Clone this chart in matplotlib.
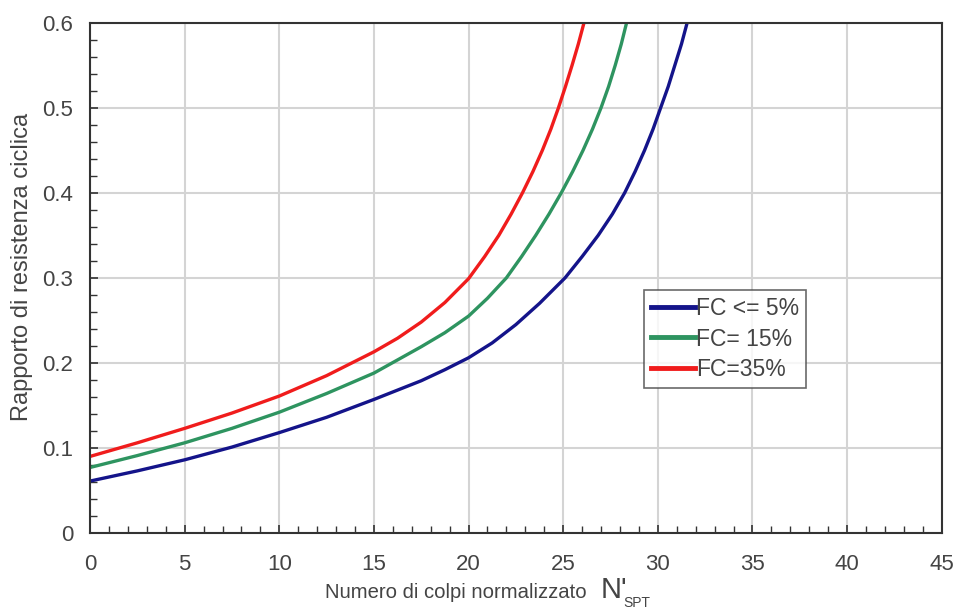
import matplotlib
matplotlib.use("Agg")
import matplotlib.pyplot as plt
from matplotlib.ticker import MultipleLocator

plt.rcParams['font.family'] = ['Liberation Sans', 'DejaVu Sans']

# values (N'spt, CRR)
n_fc5 = [0, 2.5, 5, 7.5, 10, 12.5, 15, 17.5, 18.75, 20, 21.25, 22.5, 23.75, 25.1, 26.0, 26.85,
         27.6, 28.25, 28.8, 29.3, 29.75, 30.15, 30.55, 30.9, 31.25, 31.55]
crr_fc5 = [0.061, 0.073, 0.086, 0.101, 0.118, 0.136, 0.157, 0.179, 0.192, 0.206, 0.2235, 0.245, 0.270, 0.30, 0.325, 0.35,
           0.375, 0.40, 0.425, 0.45, 0.475, 0.50, 0.525, 0.55, 0.575, 0.60]

n_fc15 = [0, 2.5, 5, 7.5, 10, 12.5, 15, 17.5, 18.75, 20, 21.0, 22.0, 22.8, 23.55, 24.25, 24.9,
          25.5, 26.05, 26.55, 27.0, 27.4, 27.75, 28.07, 28.35]
crr_fc15 = [0.077, 0.091, 0.106, 0.123, 0.142, 0.164, 0.188, 0.219, 0.2355, 0.255, 0.276, 0.30, 0.325, 0.35, 0.375, 0.40,
            0.425, 0.45, 0.475, 0.50, 0.525, 0.55, 0.575, 0.60]

n_fc35 = [0, 2.5, 5, 7.5, 10, 12.5, 15, 16.25, 17.5, 18.75, 20, 20.85, 21.6, 22.25, 22.85,
          23.4, 23.9, 24.35, 24.75, 25.12, 25.47, 25.8, 26.1]
crr_fc35 = [0.090, 0.106, 0.123, 0.141, 0.161, 0.185, 0.213, 0.229, 0.248, 0.271, 0.299, 0.325, 0.35, 0.375, 0.40,
            0.425, 0.45, 0.475, 0.50, 0.525, 0.55, 0.575, 0.60]

labels = ["FC <= 5%", "FC= 15%", "FC=35%"]
colors = ["#14148a", "#2e9460", "#f01c1c"]
text_color = '#444444'

fig = plt.figure(figsize=(9.58, 6.14), dpi=100)
ax = fig.add_axes([0.094, 0.132, 0.889, 0.831])

ax.plot(n_fc5, crr_fc5, color=colors[0], lw=2.4, label=labels[0])
ax.plot(n_fc15, crr_fc15, color=colors[1], lw=2.4, label=labels[1])
ax.plot(n_fc35, crr_fc35, color=colors[2], lw=2.4, label=labels[2])

ax.set_xlim(0, 45)
ax.set_ylim(0, 0.6)
ax.xaxis.set_major_locator(MultipleLocator(5))
ax.xaxis.set_minor_locator(MultipleLocator(1))
ax.set_yticks([0, 0.1, 0.2, 0.3, 0.4, 0.5, 0.6])
ax.set_yticklabels(["0", "0.1", "0.2", "0.3", "0.4", "0.5", "0.6"])
ax.yaxis.set_minor_locator(MultipleLocator(0.02))

ax.grid(True, which='major', color='#d4d4d4', lw=1.5)
ax.set_axisbelow(True)
ax.tick_params(which='both', direction='in', colors='#333333', labelcolor=text_color,
               labelsize=16, top=False, right=False)
ax.tick_params(axis='x', which='major', length=6, width=1.2, pad=15)
ax.tick_params(axis='y', which='major', length=6, width=1.2, pad=12)
ax.tick_params(which='minor', length=5, width=1.0)
for s in ax.spines.values():
    s.set_color('#333333')
    s.set_linewidth(1.5)

fig.text(0.023, 0.565, "Rapporto di resistenza ciclica", rotation=90, fontsize=17,
         color=text_color, ha='center', va='center')

fig.text(0.339, 0.026, "Numero di colpi normalizzato", fontsize=14.6, color=text_color, va='baseline')
fig.text(0.627, 0.026, "N'", fontsize=21, color=text_color, va='baseline')
fig.text(0.651, 0.011, "SPT", fontsize=10, color=text_color, va='baseline')

leg = ax.legend(loc='upper left', bbox_to_anchor=(0.651, 0.476), fontsize=16.5,
                frameon=True, fancybox=False, handlelength=1.9, handletextpad=0.05,
                borderpad=0.3, labelspacing=0.33, borderaxespad=0)
leg.get_frame().set_edgecolor('#444444')
leg.get_frame().set_linewidth(1.2)
for h in leg.get_lines():
    h.set_linewidth(3.5)
for t in leg.get_texts():
    t.set_color(text_color)

fig.savefig("out.png", dpi=100)
